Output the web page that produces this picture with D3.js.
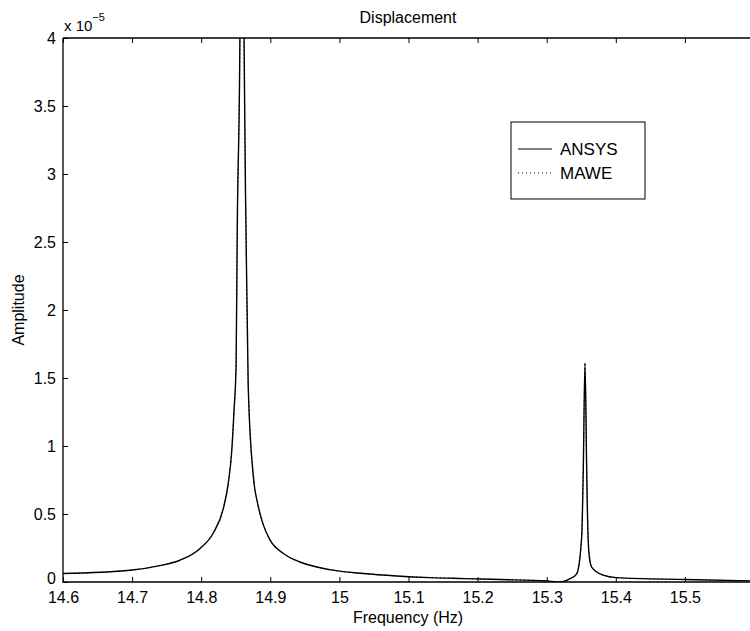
<!DOCTYPE html>
<html>
<head>
<meta charset="utf-8">
<script src="https://cdn.jsdelivr.net/npm/d3@7"></script>
<style>
  body { margin: 0; background: #fff; }
  svg text { font-family: "Liberation Sans", Arial, sans-serif; fill: #000; }
</style>
</head>
<body>
<svg id="svg" width="750" height="631"></svg>
<script>
// frequency (Hz) and amplitude (x 1e-5)
const freqs = [14.600, 14.697, 14.740, 14.769, 14.798, 14.8175, 14.832, 14.839, 14.844, 14.8475, 14.8505,
  14.8522, 14.856, 14.859, 14.862, 14.8648, 14.868, 14.8754, 14.882, 14.8899, 14.8995, 14.919, 14.943,
  14.986, 15.035, 15.083, 15.131, 15.1818, 15.2324, 15.3004, 15.3192, 15.3337, 15.3434, 15.3506, 15.353,
  15.3554, 15.3579, 15.359, 15.3612, 15.365, 15.3819, 15.4003, 15.5001, 15.6];
const ansys = [0.062, 0.086, 0.12, 0.16, 0.245, 0.36, 0.54, 0.72, 0.95, 1.26, 1.6,
  2.6, 4.0, 8.0, 4.0, 2.6, 1.45, 0.78, 0.57, 0.42, 0.31, 0.21, 0.147,
  0.091, 0.062, 0.044, 0.032, 0.025, 0.018, 0.007, 0.0, 0.025, 0.06, 0.33, 0.85,
  1.61, 0.82, 0.5, 0.21, 0.11, 0.05, 0.032, 0.018, 0.008];
// the dotted MAWE curve lies on top of the ANSYS one
const mawe = ansys.slice();
const xTicks = [14.6, 14.7, 14.8, 14.9, 15, 15.1, 15.2, 15.3, 15.4, 15.5];
const yTicks = [0, 0.5, 1, 1.5, 2, 2.5, 3, 3.5, 4];
const seriesNames = ['ANSYS', 'MAWE'];

const mLeft = 63, mTop = 38, mRight = 754, mBottom = 582;
const svg = d3.select('#svg');

const x = d3.scaleLinear().domain([14.6, 15.6]).range([mLeft, mRight]);
const y = d3.scaleLinear().domain([0, 4]).range([mBottom, mTop]);

svg.append('defs').append('clipPath').attr('id', 'clip')
  .append('rect').attr('x', mLeft).attr('y', mTop)
  .attr('width', mRight - mLeft).attr('height', mBottom - mTop);

const fmt = d => String(d);

// axes, ticks pointing inward
svg.append('g').attr('class', 'xaxis').attr('transform', `translate(0,${mBottom})`)
  .call(d3.axisBottom(x).tickValues(xTicks).tickFormat(fmt).tickSizeInner(-5).tickSizeOuter(0).tickPadding(10))
  .call(g => g.select('.domain').remove());
svg.append('g').attr('transform', `translate(0,${mTop})`)
  .call(d3.axisTop(x).tickValues(xTicks).tickFormat('').tickSizeInner(-5).tickSizeOuter(0))
  .call(g => g.select('.domain').remove());
svg.append('g').attr('class', 'yaxis').attr('transform', `translate(${mLeft},0)`)
  .call(d3.axisLeft(y).tickValues(yTicks).tickFormat(fmt).tickSizeInner(-5).tickSizeOuter(0).tickPadding(7))
  .call(g => g.select('.domain').remove());

svg.selectAll('.tick text').attr('font-size', 16).attr('font-family', '"Liberation Sans", Arial, sans-serif');
svg.selectAll('.tick line').attr('stroke', '#000');
// lift the "0" a little so it clears "14.6"
svg.selectAll('.yaxis .tick text').filter(d => d === 0).attr('dy', '0.1em');

// frame
svg.append('path')
  .attr('d', `M${mLeft},${mTop}H${mRight}M${mLeft},${mTop}V${mBottom}H${mRight}`)
  .attr('fill', 'none').attr('stroke', '#000').attr('stroke-width', 1.3);

const line = d3.line().x((d, i) => x(freqs[i])).y(d => y(d)).curve(d3.curveMonotoneX);

const plot = svg.append('g').attr('clip-path', 'url(#clip)');
plot.append('path').datum(mawe).attr('d', line)
  .attr('fill', 'none').attr('stroke', '#000').attr('stroke-width', 1).attr('stroke-dasharray', '1,3');
plot.append('path').datum(ansys).attr('d', line)
  .attr('fill', 'none').attr('stroke', '#000').attr('stroke-width', 1.4);

// exponent label
const ex = svg.append('text').attr('x', 64).attr('y', 31).attr('font-size', 15);
ex.append('tspan').text('x 10');
ex.append('tspan').attr('dy', -10).attr('font-size', 11).text('\u22125');

svg.append('text').attr('x', 408).attr('y', 23).attr('text-anchor', 'middle')
  .attr('font-size', 16).text('Displacement');
svg.append('text').attr('x', 408).attr('y', 623).attr('text-anchor', 'middle')
  .attr('font-size', 16).text('Frequency (Hz)');
svg.append('text').attr('transform', 'translate(24,310) rotate(-90)').attr('text-anchor', 'middle')
  .attr('font-size', 16).text('Amplitude');

// legend
const lg = svg.append('g');
lg.append('rect').attr('x', 511).attr('y', 122).attr('width', 134).attr('height', 77)
  .attr('fill', '#fff').attr('stroke', '#000').attr('stroke-width', 1);
seriesNames.forEach((name, i) => {
  const ly = 149 + i * 24;
  lg.append('line').attr('x1', 518).attr('x2', 552).attr('y1', ly).attr('y2', ly)
    .attr('stroke', '#000').attr('stroke-width', i ? 1 : 1.2)
    .attr('stroke-dasharray', i ? '1,3' : null);
  lg.append('text').attr('x', 560).attr('y', ly + 6).attr('font-size', 17).text(name);
});
</script>
</body>
</html>
